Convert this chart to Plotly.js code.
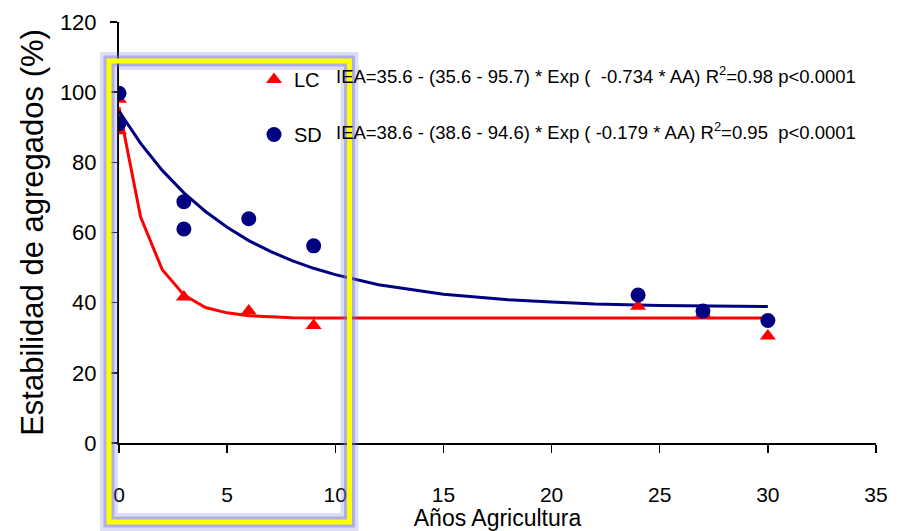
<!DOCTYPE html>
<html>
<head>
<meta charset="utf-8">
<script src="https://cdn.plot.ly/plotly-3.0.1.min.js"></script>
<style>
  html, body { margin: 0; padding: 0; background: #ffffff; }
  #chart { width: 908px; height: 531px; }
</style>
</head>
<body>
<div id="chart"></div>
<script>
// Observed points
const xLC = [0, 0, 3, 6, 9, 24, 27, 30];
const yLC = [98, 89, 41.6, 37.6, 33.5, 39, 37, 30.5];
const xSD = [0, 0, 3, 3, 6, 9, 24, 27, 30];
const ySD = [99.7, 91.1, 68.8, 61, 63.9, 56.2, 42.2, 37.6, 34.9];

// Fitted curves
const xFitLC = [0, 1, 2, 3, 4, 5, 6, 7, 8, 9, 10, 15, 20, 25, 30];
const yFitLC = [95.7, 64.4, 49.4, 42.2, 38.6, 37.1, 36.3, 35.9, 35.7, 35.6, 35.6, 35.6, 35.6, 35.6, 35.6];
const xFitSD = [0, 1, 2, 3, 4, 5, 6, 7, 8, 9, 10, 12, 15, 18, 20, 22, 25, 27, 30];
const yFitSD = [94.6, 85.4, 77.7, 71.3, 66.0, 61.5, 57.7, 54.6, 52.0, 49.8, 48.0, 45.1, 42.4, 40.8, 40.2, 39.6, 39.2, 39.0, 38.9];

const seriesNames = ["LC", "SD"];
const equations = [
  "IEA=35.6 - (35.6 - 95.7) * Exp (  -0.734 * AA) R<sup>2</sup>=0.98 p<0.0001",
  "IEA=38.6 - (38.6 - 94.6) * Exp ( -0.179 * AA) R<sup>2</sup>=0.95  p<0.0001"
];
const xTicks = [0, 5, 10, 15, 20, 25, 30, 35];
const yTicks = [0, 20, 40, 60, 80, 100, 120];

const RED = "#ff0000";
const NAVY = "#000080";
const FONT = "Liberation Sans, Arial, sans-serif";

// plot area geometry (pixels)
const L = 119, T = 22, W = 757, H = 421;
const px = v => (v - L) / W;
const py = v => (T + H - v) / H;

const traces = [
  { x: xFitLC, y: yFitLC, mode: "lines", line: { color: RED, width: 3 }, showlegend: false, hoverinfo: "skip" },
  { x: xFitSD, y: yFitSD, mode: "lines", line: { color: NAVY, width: 3 }, showlegend: false, hoverinfo: "skip" },
  { x: xLC, y: yLC, mode: "markers", name: seriesNames[0], legendgroup: "a",
    marker: { symbol: "triangle-up", size: 14, color: RED } },
  { x: xSD, y: ySD, mode: "markers", name: seriesNames[1], legendgroup: "b",
    marker: { symbol: "circle", size: 15, color: NAVY } }
];

const frame = { x0: px(109), x1: px(349.5), y0: py(522), y1: py(61) };
const layout = {
  width: 908, height: 531,
  margin: { l: L, r: 908 - L - W, t: T, b: 531 - T - H },
  paper_bgcolor: "#ffffff", plot_bgcolor: "#ffffff",
  font: { family: FONT, color: "#000000", size: 20 },
  xaxis: {
    range: [0, 35], tickvals: xTicks, ticktext: xTicks.map(String),
    showgrid: false, zeroline: false, showline: true, linecolor: "#000000", linewidth: 2,
    ticks: "outside", ticklen: 8, tickwidth: 1.5, tickcolor: "#000000",
    ticklabelstandoff: 24,
    tickfont: { family: FONT, size: 21, color: "#000000" },
    title: { text: "Años Agricultura", font: { family: FONT, size: 23, color: "#000000" }, standoff: 3 }
  },
  yaxis: {
    range: [0, 120], tickvals: yTicks, ticktext: yTicks.map(String),
    showgrid: false, zeroline: false, showline: true, linecolor: "#000000", linewidth: 2,
    ticks: "outside", ticklen: 7, tickwidth: 1.5, tickcolor: "#000000",
    ticklabelstandoff: 9,
    tickfont: { family: FONT, size: 22, color: "#000000" },
    title: { text: "Estabilidad de agregados (%)", font: { family: FONT, size: 31, color: "#000000" }, standoff: 7 }
  },
  showlegend: true,
  legend: {
    x: px(254), y: py(60), xanchor: "left", yanchor: "top",
    bgcolor: "rgba(0,0,0,0)", borderwidth: 0,
    font: { family: FONT, size: 20, color: "#000000" },
    traceorder: "grouped", tracegroupgap: 26
  },
  annotations: equations.map((t, i) => ({
    xref: "paper", yref: "paper", x: px(334), y: py(i === 0 ? 75 : 131),
    xanchor: "left", yanchor: "middle", showarrow: false, text: t,
    font: { family: FONT, size: 18.5, color: "#000000" }
  })),
  shapes: [
    { type: "rect", xref: "paper", yref: "paper", ...frame, layer: "above",
      line: { color: "rgba(120,120,215,0.25)", width: 18 }, fillcolor: "rgba(0,0,0,0)" },
    { type: "rect", xref: "paper", yref: "paper", ...frame, layer: "above",
      line: { color: "rgba(120,120,215,0.45)", width: 11 }, fillcolor: "rgba(0,0,0,0)" },
    { type: "rect", xref: "paper", yref: "paper", ...frame, layer: "above",
      line: { color: "#ffff00", width: 5 }, fillcolor: "rgba(0,0,0,0)" }
  ]
};

Plotly.newPlot("chart", traces, layout, { staticPlot: true, displayModeBar: false });
</script>
</body>
</html>
